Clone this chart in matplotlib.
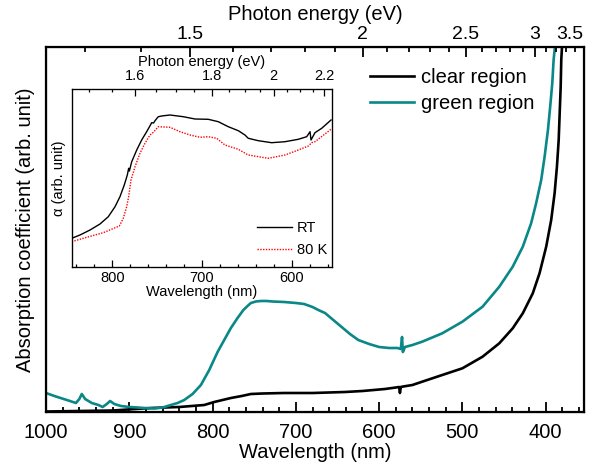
import numpy as np
import matplotlib

matplotlib.use("Agg")
import matplotlib.pyplot as plt
from matplotlib.ticker import MultipleLocator, FixedLocator

plt.rcParams["font.family"] = ["Liberation Sans", "DejaVu Sans"]

HC = 1239.84  # eV*nm

# --- main panel: absorption (arb. unit) vs wavelength (nm)
green_nm = [1000, 990, 975, 964, 960, 957, 953, 945, 937, 932, 927, 923, 918, 910,
            900, 890, 882, 870, 860, 850, 842, 834, 824, 814, 804, 794, 786, 778,
            770, 763, 758, 754, 748, 742, 735, 728, 714, 700, 690, 680, 673, 665,
            655, 645, 635, 625, 612, 600, 588, 578, 574, 572.5, 571.5, 569, 560,
            548.3, 524.2, 500, 475.8, 455.7, 439.6, 427.5, 417.5, 411.5, 405.4,
            401.3, 397.3, 394.6, 392.1, 390.5, 388.9, 387]
green_y = [19, 16, 12, 9, 13, 18, 13, 9, 7, 5, 8, 11, 8, 6,
           5, 4.5, 4, 3.5, 4.5, 7, 9, 12, 18, 27, 42, 60, 72, 84,
           94, 102, 106, 109, 110.5, 111, 111, 110.5, 110, 109, 108, 105, 102, 99,
           92, 85, 78, 72, 68, 65, 64, 64, 63, 75, 60, 65, 67,
           70.3, 78.7, 90.3, 105.3, 125.3, 145.3, 165.3, 188.7, 208.7, 232,
           255.3, 282, 305.3, 328.7, 352, 365.3, 390]
clear_nm = [1000, 960, 920, 874, 840, 810, 798, 788, 778, 765, 754, 740, 714, 680,
            641, 620, 593, 580, 576, 575, 574, 572.5, 560, 548.3, 524.2, 500, 475.8,
            455.7, 439.6, 427.5, 415.5, 407.4, 399.4, 393.4, 389.3, 386.5, 384.4,
            383.2, 382, 381.3, 380.4, 379.5]
clear_y = [0.5, 1, 1.5, 4, 5, 7, 10, 12, 14, 16, 18, 18.5, 19, 19,
           20, 21, 23, 24.5, 25, 19, 25, 25.3, 27, 30.3, 37, 43.7, 55.3,
           68.7, 83.7, 98.7, 118.7, 138.7, 165.3, 192, 218.7, 245.3, 272,
           298.7, 325.3, 352, 365.3, 390]

# --- inset: alpha (arb. unit), RT and 80 K
rt_nm = [845.3, 836.1, 824.9, 813.8, 804.5, 797, 791.5, 786.7, 783.3, 781.8, 781,
         778.4, 772.8, 767.3, 761.7, 756.1, 754, 752.4, 750, 748.7, 745, 735.7,
         720.9, 707.8, 693, 681.8, 670.7, 659.5, 652.1, 648.4, 637.2, 622.3, 607.4,
         592.6, 583.2, 579.5, 578.4, 574, 566.5, 556.1]
rt_y = [28.7, 32, 37, 43, 50.3, 60.3, 70.3, 82, 92, 98.7, 96,
        105.3, 117, 127, 135.3, 144.3, 144, 146.3, 149, 150.3, 151, 152,
        150.3, 148, 147.7, 145.3, 140.3, 136.3, 132, 128.7, 126.3, 124.3, 125.3,
        127.7, 130.3, 135.3, 127, 134.3, 138.7, 147]
k80_nm = [845.3, 828.6, 810.1, 792.2, 787.8, 784, 781.8, 779.2, 774.7, 769.2, 763.6,
          758, 754.3, 748.7, 735.7, 724.5, 713.4, 702.2, 693, 683.6, 674.4, 659.5,
          648.4, 626.1, 607.4, 592.6, 581.4, 577.7, 574, 556.1]
k80_y = [25.3, 29.7, 34.3, 41, 48.7, 60.3, 70.3, 87, 100.3, 113.7, 123.7,
         132, 134.7, 140.3, 139.7, 135.3, 132, 129.7, 130.3, 128.7, 122, 117.7,
         112, 108.7, 112, 117, 121, 124.3, 125.3, 137.7]

main_ev = [1.5, 2, 2.5, 3, 3.5]
inset_ev = [1.6, 1.8, 2.0, 2.2]

TEAL = "#0a8787"

fig = plt.figure(figsize=(5.95, 4.68), dpi=100)
ax = fig.add_axes([46 / 595, 56 / 468, 538 / 595, 365 / 468])

ax.plot(clear_nm, clear_y, color="black", lw=1.9, label="clear region")
ax.plot(green_nm, green_y, color=TEAL, lw=1.9, label="green region")
ax.set_xlim(1000, 354)
ax.set_ylim(0, 365)
ax.set_yticks([])
ax.xaxis.set_major_locator(MultipleLocator(100))
ax.xaxis.set_minor_locator(MultipleLocator(20))
ax.tick_params(axis="x", which="both", direction="in", labelsize=14.5, width=1.3)
ax.tick_params(axis="x", which="major", length=7, pad=8)
ax.tick_params(axis="x", which="minor", length=3.5)
ax.set_xlabel("Wavelength (nm)", fontsize=14.5, labelpad=1)
ax.set_ylabel("Absorption coefficient (arb. unit)", fontsize=14.5, labelpad=8)
for s in ax.spines.values():
    s.set_linewidth(1.6)

top = ax.twiny()
top.set_xlim(ax.get_xlim())
top.xaxis.set_major_locator(FixedLocator([HC / e for e in main_ev]))
top.set_xticklabels([f"{e:g}" for e in main_ev])
top.xaxis.set_minor_locator(FixedLocator([HC / e for e in np.arange(1.3, 3.45, 0.1)]))
top.tick_params(axis="x", which="both", direction="in", labelsize=14, width=1.3)
top.tick_params(axis="x", which="major", length=7, pad=3)
top.tick_params(axis="x", which="minor", length=3.5)
top.set_xlabel("Photon energy (eV)", fontsize=14.5, labelpad=4)
top.get_xticklabels()[-1].set_horizontalalignment("right")

ax.legend(loc="upper left", bbox_to_anchor=(0.602, 0.942), frameon=False,
          fontsize=14.5, handlelength=2.2, handletextpad=0.35, labelspacing=0.35,
          borderpad=0, borderaxespad=0)

# --- inset
ins = fig.add_axes([72 / 595, 201 / 468, 260 / 595, 178 / 468])
ins.plot(rt_nm, rt_y, color="black", lw=1.0, label="RT")
ins.plot(k80_nm, k80_y, color="red", lw=1.0, ls=(0, (1, 1)), label="80 K")
ins.set_xlim(845, 555)
ins.set_ylim(0, 178)
ins.set_yticks([])
ins.xaxis.set_major_locator(MultipleLocator(100))
ins.xaxis.set_minor_locator(MultipleLocator(20))
ins.tick_params(axis="x", which="both", direction="in", labelsize=10.5, width=0.9)
ins.tick_params(axis="x", which="major", length=5, pad=3)
ins.tick_params(axis="x", which="minor", length=2.5)
ins.set_xlabel("Wavelength (nm)", fontsize=10.5, labelpad=0)
ins.set_ylabel("\u03b1 (arb. unit)", fontsize=10.5, labelpad=4)
for s in ins.spines.values():
    s.set_linewidth(0.9)

ins_top = ins.twiny()
ins_top.set_xlim(ins.get_xlim())
ins_top.xaxis.set_major_locator(FixedLocator([HC / e for e in inset_ev]))
ins_top.set_xticklabels([f"{e:g}" for e in inset_ev])
ins_top.xaxis.set_minor_locator(FixedLocator([HC / e for e in np.arange(1.5, 2.26, 0.05)]))
ins_top.tick_params(axis="x", which="both", direction="in", labelsize=10.5, width=0.9)
ins_top.tick_params(axis="x", which="major", length=5, pad=4)
ins_top.tick_params(axis="x", which="minor", length=2.5)
ins_top.set_xlabel("Photon energy (eV)", fontsize=10.5, labelpad=2.5)

ins.legend(loc="upper left", bbox_to_anchor=(0.71, 0.26), frameon=False,
           fontsize=10.5, handlelength=2.4, handletextpad=0.35, labelspacing=0.6,
           borderpad=0, borderaxespad=0)

fig.savefig("out.png", dpi=100)
